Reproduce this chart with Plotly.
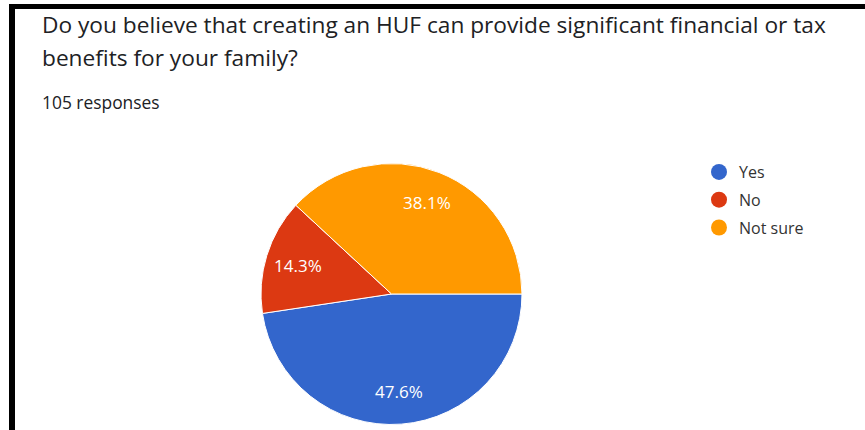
import math
import plotly.graph_objects as go

# Survey answers (105 responses)
answers = ["Yes", "No", "Not sure"]
counts = [50, 15, 40]
colors = ["#3366cc", "#dc3912", "#ff9900"]

question_lines = [
    "Do you believe that creating an HUF can provide significant financial or tax",
    "benefits for your family?",
]
total = sum(counts)
responses_note = f"{total} responses"

W, H = 865, 430
FONT = "Open Sans"

# pie placement (pixels)
px0, px1 = 261, 522
py0, py1 = 163, 425
cx, cy = (px0 + px1) / 2, (py0 + py1) / 2
radius = (px1 - px0) / 2
start_deg = 90  # first slice starts at 3 o'clock, going clockwise

fig = go.Figure()

fig.add_trace(go.Pie(
    labels=answers,
    values=counts,
    marker=dict(colors=colors, line=dict(color="white", width=1)),
    sort=False,
    direction="clockwise",
    rotation=start_deg,
    textinfo="none",
    hoverinfo="label+percent",
    showlegend=False,
    domain=dict(x=[px0 / W, px1 / W], y=[(H - py1) / H, (H - py0) / H]),
))

# Circular legend markers, one entry per answer
for name, col in zip(answers, colors):
    fig.add_trace(go.Scatter(
        x=[None], y=[None], mode="markers", name=name,
        legendgroup=name,
        marker=dict(color=col, size=16, symbol="circle"),
        showlegend=True,
    ))

annotations = []
for i, line in enumerate(question_lines):
    annotations.append(dict(
        text=line, x=40 / W, y=(H - (7 + 33 * i)) / H, xref="paper", yref="paper",
        xanchor="left", yanchor="top", align="left", showarrow=False,
        font=dict(family=FONT, size=22.7, color="#202124")))
annotations.append(dict(
    text=responses_note, x=40 / W, y=(H - 88) / H, xref="paper", yref="paper",
    xanchor="left", yanchor="top", align="left", showarrow=False,
    font=dict(family=FONT, size=17.4, color="#202124")))

# percentage labels placed along each slice's bisector
acc = 0
for c in counts:
    mid = start_deg + 360 * (acc + c / 2) / total
    acc += c
    rl = radius * 0.75
    lx = cx + rl * math.sin(math.radians(mid))
    ly = cy - rl * math.cos(math.radians(mid))
    annotations.append(dict(
        text=f"{100 * c / total:.1f}%", x=lx / W, y=(H - ly) / H,
        xref="paper", yref="paper", xanchor="center", yanchor="middle",
        showarrow=False, font=dict(family=FONT, size=17, color="white")))

fig.update_layout(
    width=W, height=H,
    margin=dict(l=0, r=0, t=0, b=0),
    paper_bgcolor="white",
    plot_bgcolor="white",
    font=dict(family=FONT, color="#202124"),
    xaxis=dict(visible=False, domain=[0.95, 1]),
    yaxis=dict(visible=False, domain=[0.95, 1]),
    legend=dict(
        x=699 / W, y=(H - 155) / H, xanchor="left", yanchor="top",
        font=dict(family=FONT, size=16, color="#333333"),
        tracegroupgap=4,
        itemwidth=30,
        bgcolor="rgba(0,0,0,0)",
    ),
    annotations=annotations,
    shapes=[
        # frame edges along the top and left
        dict(type="rect", xref="paper", yref="paper", x0=9 / W, x1=1, y0=(H - 9) / H, y1=(H - 4) / H,
             fillcolor="black", line=dict(width=0)),
        dict(type="rect", xref="paper", yref="paper", x0=9 / W, x1=15 / W, y0=0, y1=(H - 4) / H,
             fillcolor="black", line=dict(width=0)),
    ],
)

fig.write_html("out.html")
